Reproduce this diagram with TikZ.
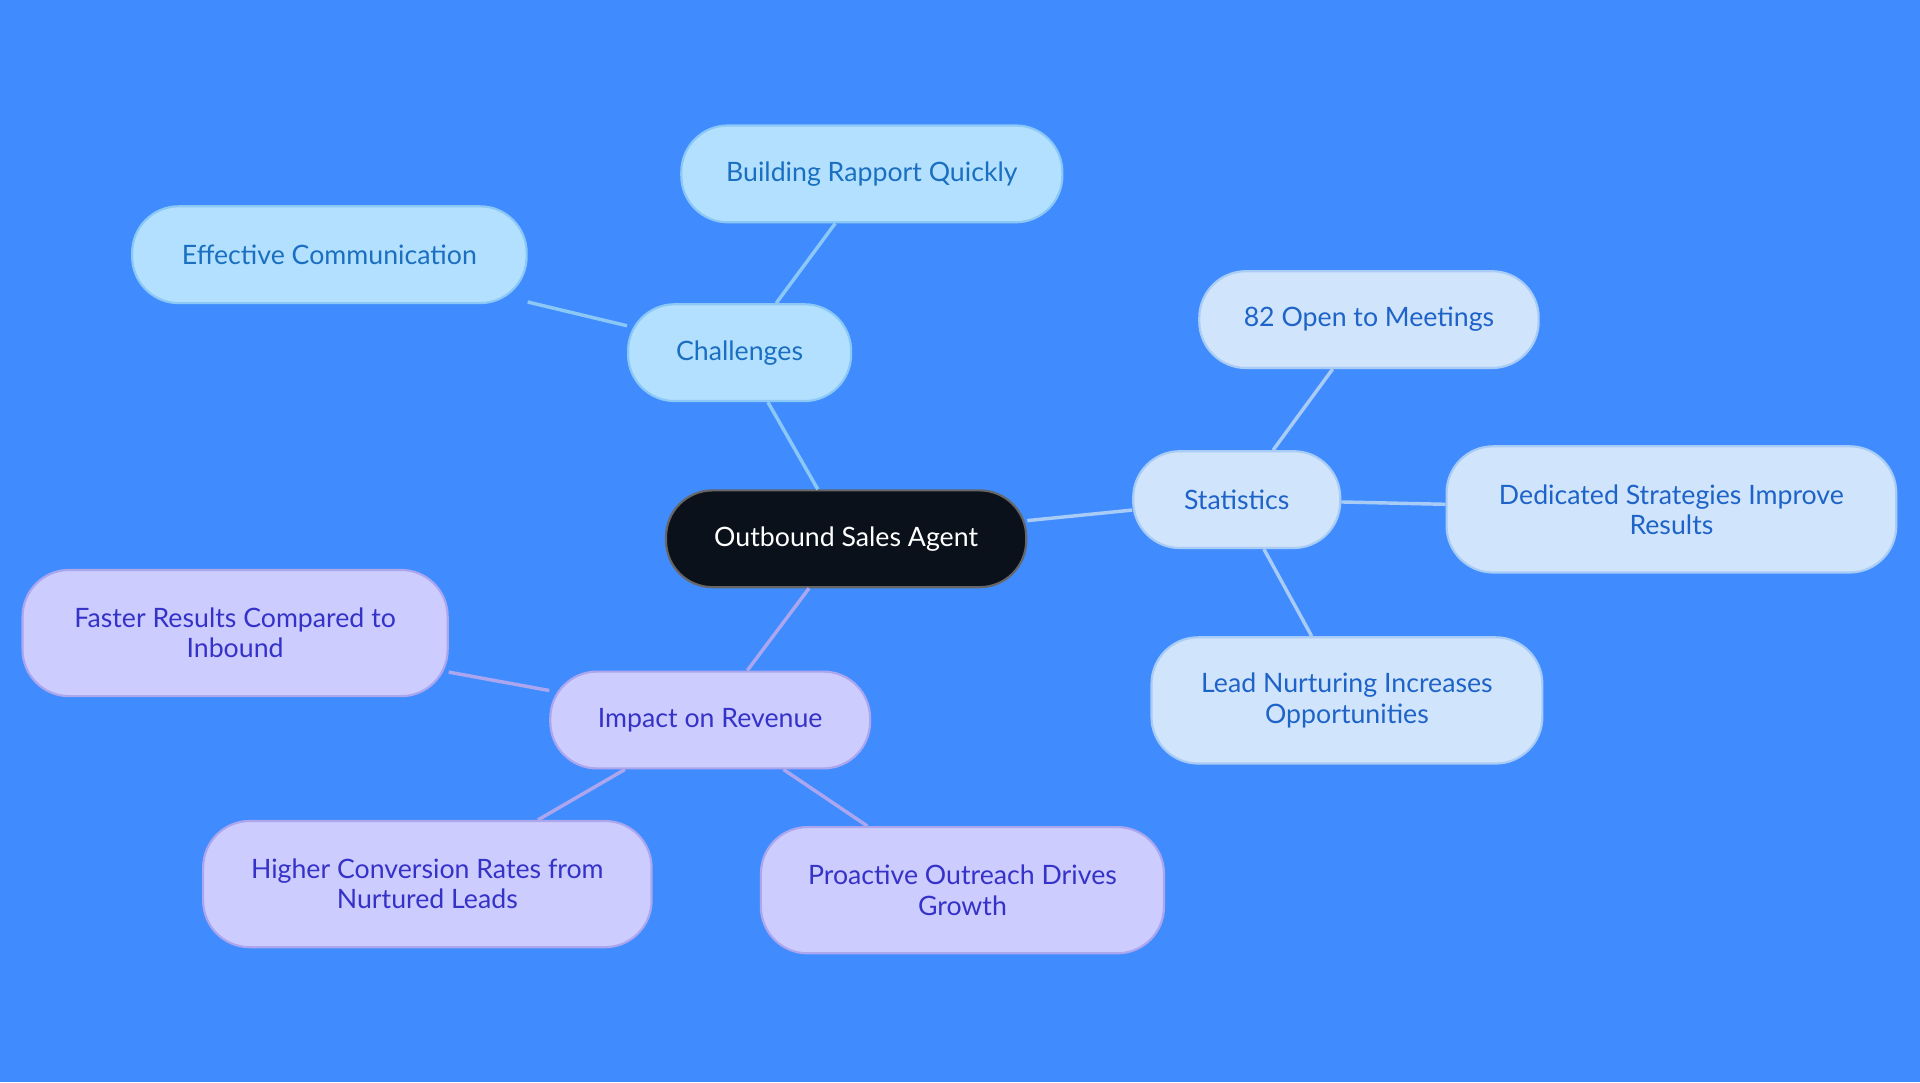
\documentclass[tikz,border=0pt]{standalone}
\usepackage{fontspec}
\setmainfont{Lato}
\usetikzlibrary{positioning}
\definecolor{bgBlue}{HTML}{408CFF}
\definecolor{rootFill}{HTML}{0B111B}
\definecolor{chalFill}{HTML}{B3E0FF}
\definecolor{chalLine}{HTML}{8CC8F5}
\definecolor{chalText}{HTML}{1A6FC0}
\definecolor{statFill}{HTML}{D0E4FB}
\definecolor{statLine}{HTML}{A8CCF5}
\definecolor{statText}{HTML}{1E63C8}
\definecolor{revFill}{HTML}{CCCCFF}
\definecolor{revLine}{HTML}{ABA6EE}
\definecolor{revText}{HTML}{3532C8}
\begin{document}
\begin{tikzpicture}[x=0.01cm,y=-0.01cm,
            box/.style={rectangle, rounded corners=0.38cm, minimum height=0.79cm, inner sep=0pt,
                        font=\fontsize{6.2}{7}\selectfont, align=center, line width=0.5pt},
            tall/.style={box, minimum height=1.03cm},
            chal/.style={fill=chalFill, draw=chalLine, text=chalText},
            stat/.style={fill=statFill, draw=statLine, text=statText},
            rev/.style={fill=revFill, draw=revLine, text=revText},
            link/.style={line width=0.8pt}
        ]
            \fill[bgBlue] (0,0) rectangle (1568,884);

            % Center
            \node[box, fill=rootFill, draw=black!60, text=white, minimum width=2.94cm] (agent) at (691,440) {Outbound Sales Agent};

            % Challenges
            \node[box, chal, minimum width=1.82cm] (chal) at (604,288) {Challenges};
            \node[box, chal, minimum width=3.11cm] (rapport) at (712,142) {Building Rapport Quickly};
            \node[box, chal, minimum width=3.22cm] (comm) at (269,208) {Effective Communication};

            % Statistics
            \node[box, stat, minimum width=1.69cm] (stats) at (1010,408) {Statistics};
            \node[box, stat, minimum width=2.77cm] (meet) at (1118,261) {82 Open to Meetings};
            \node[tall, stat, minimum width=3.67cm] (strat) at (1365,416) {Dedicated Strategies Improve\\Results};
            \node[tall, stat, minimum width=3.19cm] (nurt) at (1100,572) {Lead Nurturing Increases\\Opportunities};

            % Revenue
            \node[box, rev, minimum width=2.61cm] (rev) at (580,588) {Impact on Revenue};
            \node[tall, rev, minimum width=3.47cm] (fast) at (192,517) {Faster Results Compared to\\Inbound};
            \node[tall, rev, minimum width=3.66cm] (conv) at (349,722) {Higher Conversion Rates from\\Nurtured Leads};
            \node[tall, rev, minimum width=3.29cm] (pro) at (786,727) {Proactive Outreach Drives\\Growth};

            % Links
            \draw[link, chalLine] (agent) -- (chal);
            \draw[link, chalLine] (chal) -- (rapport);
            \draw[link, chalLine] (chal) -- (comm);
            \draw[link, statLine] (agent) -- (stats);
            \draw[link, statLine] (stats) -- (meet);
            \draw[link, statLine] (stats) -- (strat);
            \draw[link, statLine] (stats) -- (nurt);
            \draw[link, revLine] (agent) -- (rev);
            \draw[link, revLine] (rev) -- (fast);
            \draw[link, revLine] (rev) -- (conv);
            \draw[link, revLine] (rev) -- (pro);
        \end{tikzpicture}
\end{document}
